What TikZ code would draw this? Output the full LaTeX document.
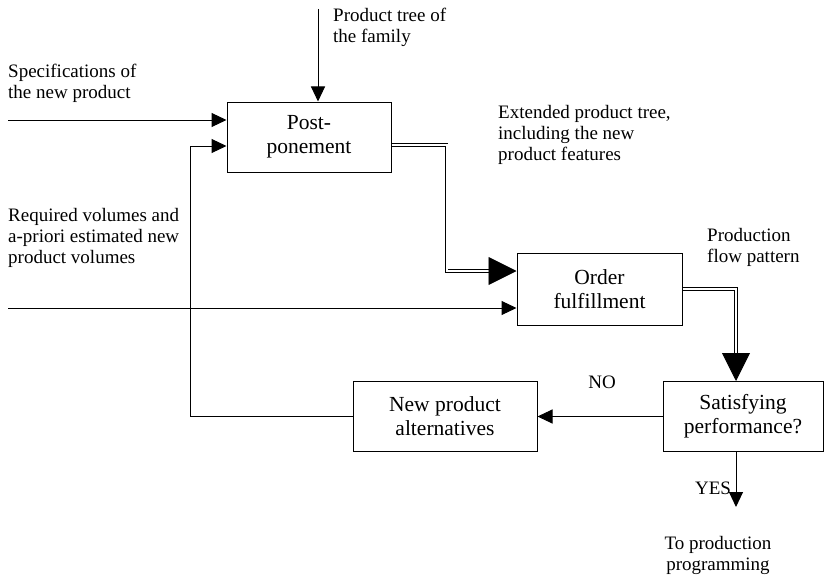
\documentclass[tikz,border=0pt]{standalone}
\usepackage{fontspec}
\setmainfont{Liberation Serif}
\usetikzlibrary{arrows.meta}

\begin{document}
\begin{tikzpicture}[x=1pt,y=-1pt,every node/.style={align=center},
  stepbox/.style={draw,line width=1pt,inner sep=0pt,font=\fontsize{21.5}{24}\selectfont},
  note/.style={align=left,anchor=north west,inner sep=0pt,font=\fontsize{19}{21}\selectfont},
  tag/.style={inner sep=0pt,font=\fontsize{19}{21}\selectfont},
  feed/.style={line width=1pt,-{Triangle[length=15pt,width=14pt]}},
  flow/.style={double,line width=.9pt,double distance=2pt,-{Triangle[length=28pt,width=28pt]}}]
  \useasboundingbox (0,0) rectangle (825,578);
  \node[stepbox,minimum width=164pt,minimum height=70pt] (post) at (309,137) {Post-\\ponement};
  \node[stepbox,minimum width=165pt,minimum height=72pt] (order) at (599.5,289) {Order\\fulfillment};
  \node[stepbox,minimum width=184pt,minimum height=70pt] (alt) at (445,416.5) {New product\\alternatives};
  \node[stepbox,minimum width=160pt,minimum height=70pt] (sat) at (743,416.5) {Satisfying\\performance?};
  \node[note] (treetxt) at (333,8) {Product tree of\\the family};
  \node[note] (spectxt) at (8,64) {Specifications of\\the new product};
  \node[note] (exttxt) at (498,105) {Extended product tree,\\including the new\\product features};
  \node[note] (reqtxt) at (8,208) {Required volumes and\\a-priori estimated new\\product volumes};
  \node[note] (pattxt) at (707,228) {Production\\flow pattern};
  \node[tag] (no) at (602,382) {NO};
  \node[tag] (yes) at (713,488) {YES};
  \node[tag,anchor=north] (prog) at (718,536) {To production\\programming};
  \coordinate (tree) at (318,9);
  \coordinate (spec) at (8,120);
  \coordinate (req) at (8,308);
  \coordinate (out) at (736,507);
  \draw[feed] (tree) -- (tree |- post.north);
  \draw[feed] (spec) -- (spec -| post.west);
  \draw[feed] (alt.west) -- ++(-162,0) |- ([yshift=-9pt]post.west);
  \draw[feed] (req) -- (req -| order.west);
  \draw[flow] ([yshift=-8pt]post.east) -- ++(55,0) |- ([yshift=18pt]order.west);
  \draw[flow] (order.east) -| ([xshift=-7pt]sat.north);
  \draw[feed] (sat.west) -- (alt.east);
  \draw[feed] ([xshift=-7pt]sat.south) -- (out);
\end{tikzpicture}
\end{document}
